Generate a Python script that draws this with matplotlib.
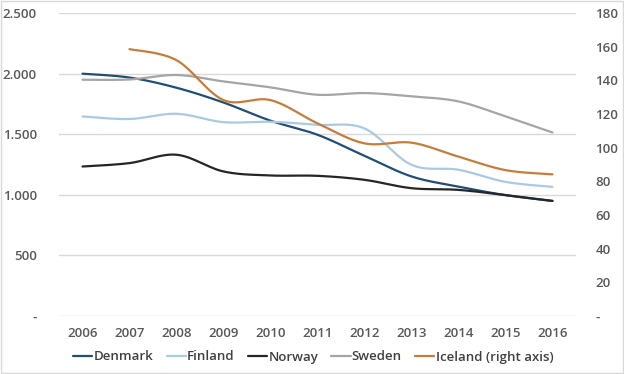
import numpy as np
import matplotlib.pyplot as plt
from matplotlib.patches import Rectangle

years = [2006, 2007, 2008, 2009, 2010, 2011, 2012, 2013, 2014, 2015, 2016]
denmark = [2000, 1968, 1884, 1762, 1612, 1496, 1322, 1152, 1068, 998, 950]
finland = [1647, 1626, 1669, 1600, 1603, 1578, 1548, 1248, 1207, 1107, 1066]
norway = [1234, 1262, 1331, 1193, 1160, 1157, 1124, 1055, 1041, 998, 950]
sweden = [1950, 1952, 1989, 1936, 1887, 1826, 1840, 1813, 1771, 1647, 1515]
iceland_years = [2007, 2008, 2009, 2010, 2011, 2012, 2013, 2014, 2015, 2016]
iceland = [158.6, 152, 128.3, 128.3, 114.5, 102.6, 103, 94.7, 86.7, 84.2]

left_ticks = [0, 500, 1000, 1500, 2000, 2500]
left_labels = ['-', '500', '1.000', '1.500', '2.000', '2.500']
right_ticks = [0, 20, 40, 60, 80, 100, 120, 140, 160, 180]
right_labels = ['-'] + [str(t) for t in right_ticks[1:]]


def smooth(x, y, n=30):
    # Excel-style smoothed line: Bezier segments with Catmull-Rom control points
    x = np.asarray(x, float)
    y = np.asarray(y, float)
    px = np.concatenate([[x[0]], x, [x[-1]]])
    py = np.concatenate([[y[0]], y, [y[-1]]])
    xs, ys = [], []
    t = np.linspace(0, 1, n)
    for i in range(1, len(px) - 2):
        p0 = np.array([px[i], py[i]])
        p3 = np.array([px[i + 1], py[i + 1]])
        c1 = p0 + (p3 - np.array([px[i - 1], py[i - 1]])) / 6
        c2 = p3 - (np.array([px[i + 2], py[i + 2]]) - p0) / 6
        pts = ((1 - t) ** 3)[:, None] * p0 + (3 * (1 - t) ** 2 * t)[:, None] * c1 \
            + (3 * (1 - t) * t ** 2)[:, None] * c2 + (t ** 3)[:, None] * p3
        xs.extend(pts[:, 0])
        ys.extend(pts[:, 1])
    return np.array(xs), np.array(ys)


plt.rcParams['font.family'] = ['Open Sans', 'DejaVu Sans']
tick_col = '#595959'
weight = 'semibold'

fig = plt.figure(figsize=(6.24, 3.74), dpi=100)
ax = fig.add_axes([0.0946, 0.155, 0.923 - 0.0946, 0.965 - 0.155])
ax2 = ax.twinx()

series = [
    ('Denmark', denmark, '#1F4E79'),
    ('Finland', finland, '#A9CBE2'),
    ('Norway', norway, '#262626'),
    ('Sweden', sweden, '#A5A5A5'),
]
handles = []
for name, vals, col in series:
    sx, sy = smooth(years, vals)
    h, = ax.plot(sx, sy, color=col, lw=1.6, label=name, solid_capstyle='round')
    handles.append(h)
sx, sy = smooth(iceland_years, iceland)
h, = ax2.plot(sx, sy, color='#C77C3A', lw=1.6, label='Iceland (right axis)', solid_capstyle='round')
handles.append(h)

ax.set_xlim(2005.5, 2016.5)
ax.set_ylim(0, 2500)
ax2.set_ylim(0, 180)
ax.set_xticks(years)
ax.set_xticklabels([str(y) for y in years])
ax.set_yticks(left_ticks)
ax.set_yticklabels(left_labels)
ax2.set_yticks(right_ticks)
ax2.set_yticklabels(right_labels)

ax.grid(axis='y', color='#D9D9D9', lw=1)
ax.set_axisbelow(True)
for a in (ax, ax2):
    for s in a.spines.values():
        s.set_visible(False)
    a.tick_params(length=0, labelsize=9.5, labelcolor=tick_col)
    for lab in a.get_xticklabels() + a.get_yticklabels():
        lab.set_fontweight(weight)
ax.tick_params(axis='y', pad=16)
ax.tick_params(axis='x', pad=8)
ax2.tick_params(axis='y', pad=14)

leg = fig.legend(handles=handles, loc='center', bbox_to_anchor=(0.502, 1 - 357 / 374),
                 ncol=5, frameon=False, handlelength=1.45, handletextpad=0.1,
                 columnspacing=1.0, prop={'size': 9.5, 'weight': weight})
for txt in leg.get_texts():
    txt.set_color('#404040')

fig.patches.append(Rectangle((0.002, 0.003), 0.996, 0.994, transform=fig.transFigure,
                             fill=False, edgecolor='#D9D9D9', lw=1))

fig.savefig('out.png', dpi=100)
